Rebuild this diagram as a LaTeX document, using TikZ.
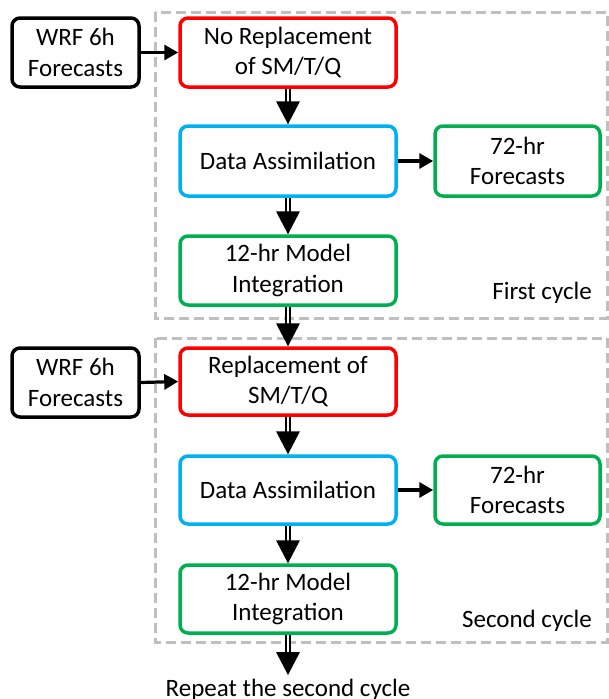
\documentclass[tikz,border=0pt]{standalone}
\usepackage{fontspec}
\setmainfont{Carlito}
\usetikzlibrary{arrows.meta,calc}

\definecolor{boxred}{HTML}{FF0000}
\definecolor{boxblue}{HTML}{00B0F0}
\definecolor{boxgreen}{HTML}{00B050}
\definecolor{framegray}{HTML}{BFBFBF}

\tikzset{
  box/.style={draw, rounded corners=8pt, line width=3.5pt, align=center,
    inner sep=0pt, font=\fontsize{25}{30.5}\selectfont},
  inbox/.style={box, black, text=black, minimum width=127pt, minimum height=69pt},
  stepbox/.style={box, minimum width=216pt, minimum height=69pt, text=black},
  outbox/.style={box, boxgreen, text=black, minimum width=165pt, minimum height=70pt},
  cycleframe/.style={draw=framegray, line width=3pt, dash pattern=on 10pt off 5pt},
  sidearrow/.style={line width=3.2pt, -{Triangle[length=14pt,width=15pt]}},
  dblshaft/.style={double, double distance=2.4pt, line width=1.8pt},
  label/.style={font=\fontsize{25}{30.5}\selectfont, inner sep=0pt}
}

% double-shaft arrow with a wide solid head; #1 start, #2 tip
\newcommand{\dblarrow}[2]{%
  \draw[dblshaft] (#1) -- ($(#2)+(0,-21)$);
  \fill (#2) -- ++(-12,-23) -- ++(24,0) -- cycle;
}

\begin{document}
\begin{tikzpicture}[x=1pt,y=-1pt]
\useasboundingbox (0,0) rectangle (609,699);

% cycle frames
\draw[cycleframe] (155,12) rectangle (607,318);
\draw[cycleframe] (155,338) rectangle (607,642);

% first cycle
\node[inbox] (wrf1) at (75.5,52.5) {WRF 6h\\Forecasts};
\node[stepbox, draw=boxred] (rep1) at (288,52.5) {No Replacement\\of SM/T/Q};
\node[stepbox, draw=boxblue, minimum height=70pt] (da1) at (288,161) {Data Assimilation};
\node[outbox] (fc1) at (517.5,161) {72-hr\\Forecasts};
\node[stepbox, draw=boxgreen] (int1) at (288,270.5) {12-hr Model\\Integration};
\node[label, anchor=east] (cyc1) at (592,293) {First cycle};

% second cycle
\node[inbox] (wrf2) at (75.5,382.5) {WRF 6h\\Forecasts};
\node[stepbox, draw=boxred, minimum height=67pt] (rep2) at (288,381.5) {Replacement of\\SM/T/Q};
\node[stepbox, draw=boxblue, minimum height=68pt] (da2) at (288,490) {Data Assimilation};
\node[outbox, minimum height=68pt] (fc2) at (517.5,490) {72-hr\\Forecasts};
\node[stepbox, draw=boxgreen, minimum height=68pt] (int2) at (288,599) {12-hr Model\\Integration};
\node[label, anchor=east] (cyc2) at (592,621) {Second cycle};

\node[label, anchor=base] (again) at (288,696) {Repeat the second cycle};
\coordinate (tip) at (288,675);

% side arrows
\draw[sidearrow] (wrf1.east) -- (rep1.west);
\draw[sidearrow] (da1.east) -- (fc1.west);
\draw[sidearrow] (wrf2.east) -- (rep2.west);
\draw[sidearrow] (da2.east) -- (fc2.west);

% main flow
\dblarrow{rep1.south}{da1.north}
\dblarrow{da1.south}{int1.north}
\dblarrow{int1.south}{rep2.north}
\dblarrow{rep2.south}{da2.north}
\dblarrow{da2.south}{int2.north}
\dblarrow{int2.south}{tip}
\end{tikzpicture}
\end{document}
